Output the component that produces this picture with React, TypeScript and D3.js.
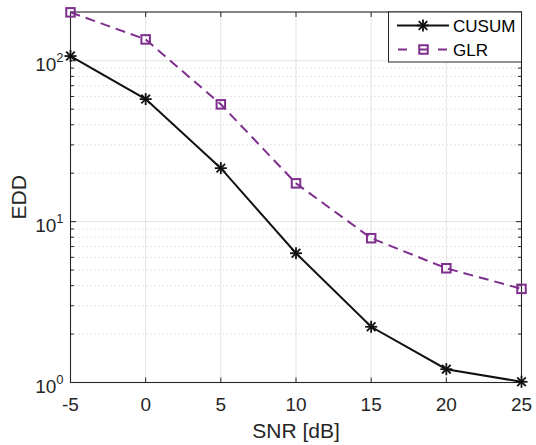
import React from "react";
import * as d3 from "d3";

// SNR sweep and detection delay for each detector
const snr = [-5, 0, 5, 10, 15, 20, 25];
const cusum = [107, 57.8, 21.5, 6.36, 2.22, 1.21, 1.01];
const glr = [200, 135.8, 53.6, 17.3, 7.89, 5.13, 3.82];
const xTicks = [-5, 0, 5, 10, 15, 20, 25];
const yDecades = [0, 1, 2];

const W = 536;
const H = 445;
const left = 70.5;
const right = 521.5;
const top = 12;
const bottom = 382.5;

const axisColor = "#262626";
const purple = "#7E2F8E";
const font = "'Liberation Sans', Arial, Helvetica, sans-serif";

const Asterisk = ({ x, y, r = 6 }: { x: number; y: number; r?: number }) => {
    const d = r * 0.72;
    return (
        <g stroke="#111" strokeWidth={1.8}>
            <line x1={x - r} y1={y} x2={x + r} y2={y} />
            <line x1={x} y1={y - r} x2={x} y2={y + r} />
            <line x1={x - d} y1={y - d} x2={x + d} y2={y + d} />
            <line x1={x - d} y1={y + d} x2={x + d} y2={y - d} />
        </g>
    );
};

const Square = ({ x, y, s = 8.5 }: { x: number; y: number; s?: number }) => (
    <rect x={x - s / 2} y={y - s / 2} width={s} height={s}
        fill="none" stroke={purple} strokeWidth={2} />
);

const App = () => {
    const xScale = d3.scaleLinear().domain([-5, 25]).range([left, right]);
    const yScale = d3.scaleLog().domain([1, 201]).range([bottom, top]);

    // minor log ticks: 2..9 x 10^k inside the domain
    const minor: number[] = [];
    yDecades.forEach((k) => {
        for (let m = 2; m <= 9; m++) {
            const v = m * Math.pow(10, k);
            if (v < 201) minor.push(v);
        }
    });

    const line = d3.line<number>()
        .x((d, i) => xScale(snr[i]))
        .y((d) => yScale(d));

    return (
        <div style={{ position: "absolute", left: 0, top: 0 }}>
            <svg width={W} height={H} style={{ display: "block", background: "#fff" }}>
                {/* grid */}
                {minor.map((v) => (
                    <line key={"mg" + v} x1={left} x2={right} y1={yScale(v)} y2={yScale(v)}
                        stroke="#c8c8c8" strokeWidth={1} strokeDasharray="1,3" />
                ))}
                {yDecades.map((k) => (
                    <line key={"yg" + k} x1={left} x2={right}
                        y1={yScale(Math.pow(10, k))} y2={yScale(Math.pow(10, k))}
                        stroke="#e2e2e2" strokeWidth={1} />
                ))}
                {xTicks.map((t) => (
                    <line key={"xg" + t} x1={xScale(t)} x2={xScale(t)} y1={top} y2={bottom}
                        stroke="#e2e2e2" strokeWidth={1} />
                ))}

                {/* ticks */}
                {xTicks.map((t) => (
                    <g key={"xt" + t} stroke={axisColor} strokeWidth={1}>
                        <line x1={xScale(t)} x2={xScale(t)} y1={bottom} y2={bottom - 5} />
                        <line x1={xScale(t)} x2={xScale(t)} y1={top} y2={top + 5} />
                    </g>
                ))}
                {minor.map((v) => (
                    <g key={"ymt" + v} stroke={axisColor} strokeWidth={1}>
                        <line x1={left} x2={left + 3.5} y1={yScale(v)} y2={yScale(v)} />
                        <line x1={right} x2={right - 3.5} y1={yScale(v)} y2={yScale(v)} />
                    </g>
                ))}
                {yDecades.map((k) => (
                    <g key={"yt" + k} stroke={axisColor} strokeWidth={1}>
                        <line x1={left} x2={left + 5.5} y1={yScale(Math.pow(10, k))} y2={yScale(Math.pow(10, k))} />
                        <line x1={right} x2={right - 5.5} y1={yScale(Math.pow(10, k))} y2={yScale(Math.pow(10, k))} />
                    </g>
                ))}

                {/* box */}
                <rect x={left} y={top} width={right - left} height={bottom - top}
                    fill="none" stroke={axisColor} strokeWidth={1.1} />

                {/* tick labels */}
                {xTicks.map((t) => (
                    <text key={"xl" + t} x={xScale(t)} y={bottom + 28} textAnchor="middle"
                        fontFamily={font} fontSize={19} fill={axisColor}>{t}</text>
                ))}
                {yDecades.map((k) => (
                    <text key={"yl" + k} x={63.5} y={yScale(Math.pow(10, k)) + 10} textAnchor="end"
                        fontFamily={font} fontSize={19} fill={axisColor}>
                        10<tspan fontSize={13} dy={-9}>{k}</tspan>
                    </text>
                ))}

                {/* axis labels */}
                <text x={(left + right) / 2} y={438} textAnchor="middle"
                    fontFamily={font} fontSize={21} fill={axisColor}>SNR [dB]</text>
                <text transform={`translate(26,${(top + bottom) / 2}) rotate(-90)`} textAnchor="middle"
                    fontFamily={font} fontSize={21} fill={axisColor}>EDD</text>

                {/* series */}
                <path d={line(cusum) || ""} fill="none" stroke="#111" strokeWidth={2} />
                <path d={line(glr) || ""} fill="none" stroke={purple} strokeWidth={2} strokeDasharray="10,6" />
                {cusum.map((v, i) => (
                    <Asterisk key={"c" + i} x={xScale(snr[i])} y={yScale(v)} />
                ))}
                {glr.map((v, i) => (
                    <Square key={"g" + i} x={xScale(snr[i])} y={yScale(v)} />
                ))}

                {/* legend */}
                <g>
                    <rect x={388.5} y={top} width={right - 388.5} height={50}
                        fill="#fff" stroke={axisColor} strokeWidth={1} />
                    <line x1={397} x2={449} y1={25.5} y2={25.5} stroke="#111" strokeWidth={2} />
                    <Asterisk x={423} y={25.5} />
                    <text x={453} y={31.5} fontFamily={font} fontSize={17} fill="#000">CUSUM</text>
                    <line x1={398} x2={407} y1={49.5} y2={49.5} stroke={purple} strokeWidth={2} />
                    <line x1={438} x2={447} y1={49.5} y2={49.5} stroke={purple} strokeWidth={2} />
                    <line x1={419} x2={428} y1={49.5} y2={49.5} stroke={purple} strokeWidth={2} />
                    <Square x={423.5} y={49.5} />
                    <text x={453} y={55.5} fontFamily={font} fontSize={17} fill="#000">GLR</text>
                </g>
            </svg>
        </div>
    );
};

export default App;
